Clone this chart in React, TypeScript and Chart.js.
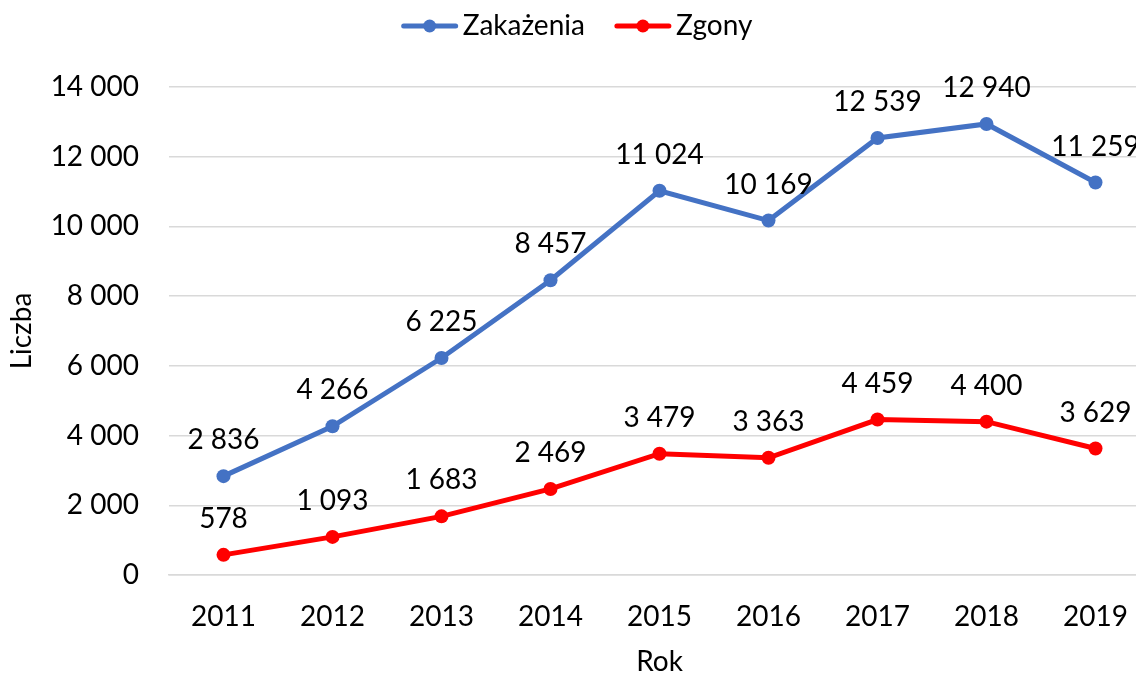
import React, { useEffect, useRef } from "react";
import { Chart, registerables } from "chart.js";

Chart.register(...registerables);

const years = ["2011", "2012", "2013", "2014", "2015", "2016", "2017", "2018", "2019"];
const infections = [2836, 4266, 6225, 8457, 11024, 10169, 12539, 12940, 11259];
const deaths = [578, 1093, 1683, 2469, 3479, 3363, 4459, 4400, 3629];
const seriesNames = ["Zakażenia", "Zgony"];
const seriesColors = ["#4472C4", "#FF0000"];
const yTicks = [0, 2000, 4000, 6000, 8000, 10000, 12000, 14000];

const FONT = "Lato, 'Open Sans', sans-serif";

const fmt = (v: number) => {
  const s = Math.round(v).toString();
  return s.replace(/\B(?=(\d{3})+(?!\d))/g, " ");
};

const labelsPlugin = {
  id: "pointLabels",
  afterDatasetsDraw(chart: any) {
    const ctx = chart.ctx;
    ctx.save();
    ctx.font = `28px ${FONT}`;
    ctx.fillStyle = "#000";
    ctx.textAlign = "center";
    ctx.textBaseline = "alphabetic";
    chart.data.datasets.forEach((ds: any, i: number) => {
      const meta = chart.getDatasetMeta(i);
      meta.data.forEach((pt: any, j: number) => {
        ctx.fillText(fmt(ds.data[j]), pt.x, pt.y - 27);
      });
    });
    ctx.restore();
  },
};

const legendPlugin = {
  id: "topLegend",
  afterDraw(chart: any) {
    const ctx = chart.ctx;
    ctx.save();
    ctx.font = `28px ${FONT}`;
    const lineW = 56;
    const gap = 5;
    const between = 30;
    const widths = seriesNames.map((n) => ctx.measureText(n).width);
    const total = widths.reduce((a, w) => a + lineW + gap + w, 0) + between * (seriesNames.length - 1);
    let x = 577 - total / 2;
    const cy = 26;
    seriesNames.forEach((name, i) => {
      ctx.strokeStyle = seriesColors[i];
      ctx.lineWidth = 5;
      ctx.lineCap = "round";
      ctx.beginPath();
      ctx.moveTo(x + 2, cy);
      ctx.lineTo(x + lineW - 2, cy);
      ctx.stroke();
      ctx.fillStyle = seriesColors[i];
      ctx.beginPath();
      ctx.arc(x + lineW / 2, cy, 6.5, 0, Math.PI * 2);
      ctx.fill();
      ctx.fillStyle = "#000";
      ctx.textAlign = "left";
      ctx.textBaseline = "alphabetic";
      ctx.fillText(name, x + lineW + gap, 35);
      x += lineW + gap + widths[i] + between;
    });
    ctx.restore();
  },
};

export default function App() {
  const ref = useRef<HTMLCanvasElement | null>(null);
  useEffect(() => {
    if (!ref.current) return;
    const chart = new Chart(ref.current, {
      type: "line",
      data: {
        labels: years,
        datasets: [
          {
            label: seriesNames[0],
            data: infections,
            borderColor: seriesColors[0],
            backgroundColor: seriesColors[0],
            borderWidth: 5,
            pointRadius: 7,
            pointHoverRadius: 7,
            pointBorderWidth: 0,
            tension: 0,
          },
          {
            label: seriesNames[1],
            data: deaths,
            borderColor: seriesColors[1],
            backgroundColor: seriesColors[1],
            borderWidth: 5,
            pointRadius: 7,
            pointHoverRadius: 7,
            pointBorderWidth: 0,
            tension: 0,
          },
        ],
      },
      options: {
        responsive: false,
        animation: false,
        layout: { padding: { top: 87, right: 0, left: 0, bottom: 0 } },
        plugins: {
          legend: { display: false },
          tooltip: { enabled: false },
        },
        scales: {
          x: {
            offset: true,
            grid: { display: false, drawTicks: false },
            border: { display: true, color: "#d9d9d9", width: 1.5 },
            ticks: { color: "#000", font: { family: FONT, size: 28 }, padding: 25, maxRotation: 0 },
            title: {
              display: true,
              text: "Rok",
              color: "#000",
              font: { family: FONT, size: 28, lineHeight: 0.9 },
              padding: { top: 0, bottom: 0 },
            },
            afterFit: (s: any) => {
              s.height = 100;
            },
          },
          y: {
            min: 0,
            max: 14000,
            afterBuildTicks: (s: any) => {
              s.ticks = yTicks.map((v) => ({ value: v }));
            },
            grid: { color: "#d9d9d9", lineWidth: 1.5, drawTicks: false },
            border: { display: false },
            ticks: {
              color: "#000",
              font: { family: FONT, size: 28 },
              padding: 30,
              callback: (v: any) => fmt(Number(v)),
            },
            title: {
              display: true,
              text: "Liczba",
              color: "#000",
              font: { family: FONT, size: 28 },
              padding: { top: 5, bottom: 0 },
            },
            afterFit: (s: any) => {
              s.width = 169;
            },
          },
        },
      },
      plugins: [labelsPlugin, legendPlugin],
    });
    return () => chart.destroy();
  }, []);
  return (
    <div style={{ position: "fixed", left: 0, top: 0, width: 1136, height: 675, overflow: "hidden", background: "#fff" }}>
      <canvas ref={ref} width={1157} height={675} style={{ width: 1157, height: 675, display: "block" }} />
    </div>
  );
}
